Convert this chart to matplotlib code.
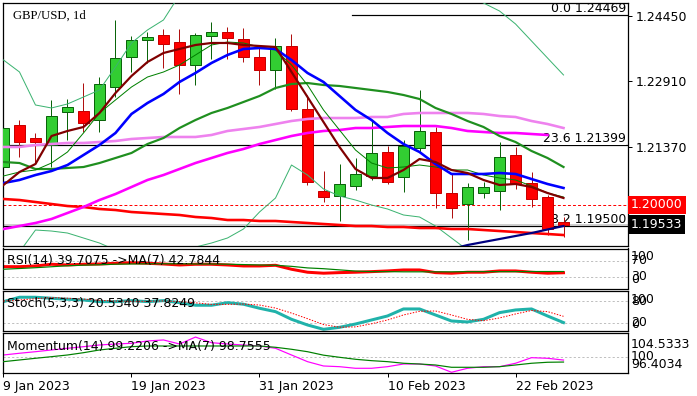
import numpy as np
import matplotlib.pyplot as plt
from matplotlib.transforms import blended_transform_factory

# ---- candles (GBP/USD daily) ----
opens = [1.20888, 1.21876, 1.21570, 1.21406, 1.22182, 1.22205, 1.21993, 1.22769, 1.23475, 1.23874,
         1.23992, 1.23827, 1.23287, 1.23969, 1.24063, 1.23898, 1.23475, 1.23169, 1.23733, 1.22252,
         1.20324, 1.20207, 1.20442, 1.20677, 1.21241, 1.20653, 1.21335, 1.21711, 1.20277, 1.20018,
         1.20277, 1.20324, 1.21170, 1.20512, 1.20183, 1.19595]
highs = [1.22111, 1.21993, 1.21688, 1.22464, 1.22487, 1.22863, 1.23004, 1.24345, 1.23969, 1.24063,
         1.24133, 1.24133, 1.24039, 1.24298, 1.24180, 1.24157, 1.23710, 1.23922, 1.24016, 1.22581,
         1.20794, 1.20959, 1.21100, 1.21970, 1.21382, 1.21523, 1.22699, 1.21829, 1.20724, 1.20512,
         1.20536, 1.21476, 1.21359, 1.20771, 1.20230, 1.19713]
lows = [1.20865, 1.21123, 1.20982, 1.20888, 1.21523, 1.21711, 1.21711, 1.22534, 1.23122, 1.23334,
        1.23216, 1.22605, 1.22816, 1.23428, 1.23428, 1.23357, 1.22816, 1.22722, 1.22205, 1.20465,
        1.20065, 1.19619, 1.20348, 1.20583, 1.20489, 1.20300, 1.21218, 1.19924, 1.19689, 1.19172,
        1.20159, 1.19877, 1.20371, 1.19948, 1.19289, 1.19242]
closes = [1.21805, 1.21476, 1.21476, 1.22087, 1.22299, 1.21923, 1.22840, 1.23451, 1.23874, 1.23945,
          1.23780, 1.23287, 1.23992, 1.24063, 1.23922, 1.23475, 1.23169, 1.23733, 1.22252, 1.20536,
          1.20183, 1.20489, 1.20724, 1.21218, 1.20536, 1.21382, 1.21735, 1.20277, 1.19924, 1.20418,
          1.20418, 1.21123, 1.20489, 1.20136, 1.19431, 1.19533]

date_idx = [0, 8, 16, 24, 32]
date_labels = ['9 Jan 2023', '19 Jan 2023', '31 Jan 2023', '10 Feb 2023', '22 Feb 2023']

# ---- moving averages / bands on price chart ----
ma_maroon = [1.20465, 1.20771, 1.20959, 1.21617, 1.21735, 1.21829, 1.22158, 1.22628, 1.23028, 1.23357,
             1.23569, 1.23663, 1.23757, 1.23804, 1.23804, 1.23757, 1.23733, 1.23710, 1.23122, 1.22534,
             1.21946, 1.21359, 1.20841, 1.20630, 1.20630, 1.20818, 1.21076, 1.21006, 1.20818, 1.20747,
             1.20583, 1.20465, 1.20489, 1.20418, 1.20277, 1.20159]
ma_blue = [1.20512, 1.20583, 1.20700, 1.20794, 1.20935, 1.21170, 1.21406, 1.21688, 1.22135, 1.22393,
           1.22605, 1.22887, 1.23099, 1.23334, 1.23522, 1.23663, 1.23686, 1.23663, 1.23404, 1.23099,
           1.22887, 1.22558, 1.22229, 1.21993, 1.21688, 1.21429, 1.21241, 1.20959, 1.20724, 1.20724,
           1.20724, 1.20747, 1.20724, 1.20606, 1.20489, 1.20395]
ma_green = [1.21006, 1.20982, 1.20841, 1.20841, 1.20865, 1.20888, 1.20982, 1.21100, 1.21218, 1.21429,
            1.21570, 1.21805, 1.21993, 1.22158, 1.22276, 1.22417, 1.22558, 1.22746, 1.22840, 1.22863,
            1.22816, 1.22793, 1.22746, 1.22699, 1.22652, 1.22581, 1.22487, 1.22276, 1.22135, 1.21970,
            1.21829, 1.21617, 1.21476, 1.21265, 1.21100, 1.20888]
ma_violet = [1.21359, 1.21359, 1.21406, 1.21429, 1.21453, 1.21453, 1.21476, 1.21500, 1.21547, 1.21570,
             1.21594, 1.21594, 1.21594, 1.21641, 1.21735, 1.21782, 1.21829, 1.21899, 1.21970, 1.22017,
             1.22040, 1.22040, 1.22040, 1.22064, 1.22064, 1.22135, 1.22158, 1.22158, 1.22158, 1.22158,
             1.22135, 1.22087, 1.22064, 1.21970, 1.21899, 1.21805]
ma_magenta = [1.19431, 1.19501, 1.19572, 1.19666, 1.19807, 1.19948, 1.20112, 1.20253, 1.20418, 1.20583,
              1.20700, 1.20841, 1.20982, 1.21100, 1.21218, 1.21312, 1.21429, 1.21523, 1.21617, 1.21688,
              1.21735, 1.21758, 1.21805, 1.21805, 1.21829, 1.21852, 1.21852, 1.21852, 1.21805, 1.21735,
              1.21711, 1.21688, 1.21688, 1.21664, 1.21641]
ma_red = [1.20136, 1.20112, 1.20065, 1.20018, 1.19971, 1.19948, 1.19901, 1.19877, 1.19830, 1.19807,
          1.19783, 1.19760, 1.19713, 1.19689, 1.19642, 1.19642, 1.19619, 1.19619, 1.19595, 1.19572,
          1.19548, 1.19525, 1.19501, 1.19501, 1.19478, 1.19478, 1.19454, 1.19454, 1.19431, 1.19431,
          1.19407, 1.19383, 1.19360, 1.19336, 1.19313, 1.19289]
ma_thin = [1.20677, 1.20771, 1.20818, 1.20982, 1.21241, 1.21688, 1.22158, 1.22464, 1.22769, 1.23004,
           1.23122, 1.23287, 1.23522, 1.23757, 1.23827, 1.23804, 1.23710, 1.23639, 1.23287, 1.22816,
           1.22229, 1.21758, 1.21288, 1.20982, 1.20865, 1.20888, 1.20935, 1.20888, 1.20818, 1.20818,
           1.20700, 1.20630, 1.20583, 1.20442, 1.20277, 1.20183]
band_up = [1.23404, 1.23122, 1.22346, 1.22276, 1.22370, 1.22534, 1.22699, 1.23240, 1.23804, 1.24110,
           1.24345, 1.24933, 1.25168, 1.25403, 1.25520, 1.25638, 1.25708, 1.25756, 1.25756, 1.25708,
           1.25638, 1.25520, 1.25473, 1.25403, 1.25332, 1.25285, 1.25238, 1.25168, 1.25050, 1.24933,
           1.24744, 1.24556, 1.24251, 1.23851, 1.23451, 1.23052]
band_low = [1.18584, 1.18890, 1.19407, 1.19383, 1.19336, 1.19219, 1.19101, 1.18937, 1.18796, 1.18702,
            1.18702, 1.18819, 1.19007, 1.19101, 1.19219, 1.19431, 1.19830, 1.20159, 1.20935, 1.20700,
            1.20371, 1.20207, 1.20112, 1.19995, 1.19901, 1.19760, 1.19713, 1.19501, 1.19219, 1.18937,
            1.18749, 1.18608, 1.18514, 1.18466, 1.18466, 1.18466]
navy_idx = [28, 29, 30, 31, 32, 33, 34, 35]
navy_vals = [1.18960, 1.19054, 1.19125, 1.19195, 1.19266, 1.19336, 1.19419, 1.19501]

fib_names = ['0.0', '23.6', '38.2']
fib_levels = [1.24469, 1.21399, 1.19500]
fib_start = [21.8, -1, -1]
price_ticks = [1.24450, 1.22910, 1.21370]
level_price = 1.20000
bid_price = 1.19533

# ---- oscillators ----
rsi = [55.2, 55.2, 57, 61.3, 59.5, 61.3, 62, 63.8, 65.3, 63.8, 62, 59.5, 61.3, 61.3, 59.5, 57, 57, 58.7,
       48.6, 41, 38.5, 40, 41, 42.5, 44.3, 46.8, 46.8, 40, 38.5, 41, 41, 44.3, 44.3, 41, 38.5, 39.7]
rsi_ma = [48.6, 50.5, 52.5, 55, 57.5, 59, 60, 61.5, 62, 62.5, 62.5, 62.5, 62, 62, 61.5, 60.5, 59.5, 58.7,
          56, 52, 50, 47, 44, 42.5, 42.5, 42, 42, 42, 42, 42.5, 42.5, 42.5, 42.5, 42.8, 42.8, 42.8]
stoch_k = [78.4, 90.5, 90.5, 87.8, 85, 83, 78.4, 78.4, 81.2, 78.4, 81.2, 75.6, 68.4, 68.4, 75.6, 71.2,
           60.1, 50.7, 29.6, 13.9, 1.9, 7.4, 16.6, 27.7, 38.8, 58.2, 58.2, 41.5, 24.9, 22.2, 29.6, 48,
           55.4, 58.2, 38.8, 20.5]
stoch_d = [80, 83, 86.5, 89.6, 87.8, 85.3, 82.1, 79.9, 79.3, 79.3, 80.3, 78.4, 75.1, 70.8, 70.8, 71.7,
           69, 60.7, 46.8, 31.4, 15.1, 7.7, 8.6, 17.2, 27.7, 41.6, 51.7, 52.6, 41.5, 29.5, 25.6, 33.3,
           44.3, 53.9, 50.8, 37.8]
mom = [100.39, 100.79, 101.15, 101.55, 101.94, 102.31, 102.7, 102.93, 103.09, 103.63, 103.86, 102.93,
       104.53, 103.23, 102.93, 102.7, 102.47, 101.94, 100.39, 98.85, 97.85, 97.69, 97.32, 97.32, 97.69,
       98.31, 98.31, 97.85, 96.40, 97.32, 97.69, 97.69, 98.48, 99.77, 99.63, 99.22]
mom_ma = [98.85, 99.24, 99.63, 100.0, 100.39, 100.92, 101.55, 101.94, 102.31, 102.47, 102.47, 102.47,
          102.47, 102.47, 102.47, 102.47, 102.47, 102.17, 101.71, 101.15, 100.35, 99.86, 99.4, 99.08,
          98.85, 98.48, 98.31, 98.08, 97.55, 97.55, 97.55, 97.69, 98.08, 98.48, 98.71, 98.76]

W, H = 697, 396
fig = plt.figure(figsize=(W / 100, H / 100), dpi=100)


def panel(top, bottom):
    ax = fig.add_axes([3 / W, 1 - bottom / H, 625 / W, (bottom - top) / H])
    ax.set_xlim(-0.03, 39.03)
    for s in ax.spines.values():
        s.set_linewidth(0.9)
    ax.tick_params(axis='x', bottom=False, labelbottom=False)
    ax.tick_params(axis='y', left=False, labelleft=False)
    return ax


def px(points):
    return points * 72 / 100


FS = 9
x = np.arange(len(opens))

# ---- main price panel ----
ax = panel(3, 246)
ax.set_ylim(1.19031, 1.24744)

for name, lvl, start in zip(fib_names, fib_levels, fib_start):
    ax.plot([start, 40], [lvl, lvl], color='black', lw=px(1.2), zorder=1)
    ax.annotate(name + ' ' + '%.5f' % lvl, xy=(0.9968, lvl),
                xycoords=blended_transform_factory(ax.transAxes, ax.transData),
                xytext=(0, px(3)), textcoords='offset points', ha='right', va='baseline',
                fontsize=FS, color='black', zorder=1,
                bbox=dict(facecolor='white', edgecolor='none', pad=0) if name == '23.6' else None)
ax.axhline(bid_price, color='#c0c0c0', lw=px(1.5), zorder=1)
ax.axhline(level_price, color='red', lw=px(1), ls=(0, (px(4), px(3))), zorder=1)

for i in x:
    o, h, l, c = opens[i], highs[i], lows[i], closes[i]
    up = c >= o
    body_c = '#32cd32' if up else '#ff0000'
    edge_c = '#0a640a' if up else '#c80000'
    wick_c = '#0a640a' if up else '#b01010'
    ax.vlines(i, l, h, color=wick_c, lw=px(1), zorder=2)
    ax.bar(i, max(abs(c - o), 0.00004), bottom=min(o, c), width=0.64,
           color=body_c, edgecolor=edge_c, linewidth=px(1), zorder=3)

ax.plot(x, band_up, color='#3cb371', lw=px(1), zorder=4)
ax.plot(x, band_low, color='#3cb371', lw=px(1), zorder=4)
ax.plot(x, ma_red, color='#ff0000', lw=px(2.6), zorder=4)
ax.plot(np.arange(len(ma_magenta)), ma_magenta, color='#ff00ff', lw=px(2.6), zorder=4)
ax.plot(x, ma_violet, color='#ee82ee', lw=px(2.6), zorder=4)
ax.plot(x, ma_green, color='#1f8f1f', lw=px(2.2), zorder=4)
ax.plot(x, ma_thin, color='#008000', lw=px(1), zorder=4)
ax.plot(x, ma_blue, color='#0000ff', lw=px(2.6), zorder=5)
ax.plot(x, ma_maroon, color='#800000', lw=px(2.2), zorder=5)
ax.plot(navy_idx, navy_vals, color='#000080', lw=px(2.2), zorder=5)

ax.yaxis.tick_right()
ax.set_yticks(price_ticks)
ax.set_yticklabels(['%.5f' % t for t in price_ticks])
ax.tick_params(axis='y', right=True, labelright=True, length=px(4), width=px(1),
               pad=px(4), labelsize=FS)
ax.text(0.0155, 0.948, 'GBP/USD, 1d', transform=ax.transAxes, family='Liberation Serif',
        fontsize=9.2, va='center', ha='left')
bt = blended_transform_factory(ax.transAxes, ax.transData)
ax.text(1.0048, level_price, '%.5f' % level_price, transform=bt, color='white', fontsize=FS,
        va='center', ha='left', bbox=dict(boxstyle='square,pad=0.22', fc='#ff0000', ec='none'))
ax.text(1.0048, bid_price, '%.5f' % bid_price, transform=bt, color='white', fontsize=FS,
        va='center', ha='left', bbox=dict(boxstyle='square,pad=0.22', fc='black', ec='none'))


def side_label(a, val, text, dy=0):
    a.annotate(text, xy=(1.0048, val),
               xycoords=blended_transform_factory(a.transAxes, a.transData),
               xytext=(0, px(dy)), textcoords='offset points', ha='left', va='center',
               fontsize=FS, annotation_clip=False)


grid_kw = dict(color='#c0c0c0', lw=px(1), ls=(0, (px(3), px(3))), zorder=0)

# ---- RSI ----
ar = panel(248.5, 288.5)
ar.set_ylim(-0.5, 101.5)
for lv in (70, 30):
    ar.axhline(lv, **grid_kw)
ar.plot(x, rsi, color='#ff0000', lw=px(3), zorder=2)
ar.plot(x, rsi_ma, color='#008000', lw=px(1.2), zorder=3)
ar.text(0.0069, 0.69, 'RSI(14) 39.7075 ->MA(7) 42.7844', transform=ar.transAxes,
        fontsize=FS, va='center', zorder=5)
side_label(ar, 100, '100', -7)
side_label(ar, 70, '70')
side_label(ar, 30, '30')
side_label(ar, 0, '0', 9)

# ---- Stochastic ----
ast = panel(290.7, 330.7)
ast.set_ylim(-1.9, 108.6)
for lv in (80, 20):
    ast.axhline(lv, **grid_kw)
ast.plot(x, stoch_k, color='#20b2aa', lw=px(3), zorder=2)
ast.plot(x, stoch_d, color='#ff0000', lw=px(1), ls=(0, (px(2), px(2))), zorder=3)
ast.text(0.0069, 0.685, 'Stoch(5,3,3) 20.5340 37.8249', transform=ast.transAxes,
         fontsize=FS, va='center', zorder=5)
side_label(ast, 100, '100', -5.5)
side_label(ast, 80, '80')
side_label(ast, 20, '20')
side_label(ast, 0, '0', 6)

# ---- Momentum ----
am = panel(333.3, 372.7)
am.set_ylim(96.3, 105.4)
am.axhline(100, **grid_kw)
am.plot(x, mom, color='#ff00ff', lw=px(1.2), zorder=2)
am.plot(x, mom_ma, color='#008000', lw=px(1.2), zorder=3)
am.text(0.0069, 0.66, 'Momentum(14) 99.2206 ->MA(7) 98.7555', transform=am.transAxes,
        fontsize=FS, va='center', zorder=5)
side_label(am, 104.5333, '104.5333', -7)
side_label(am, 100, '100')
side_label(am, 96.4034, '96.4034', 8)

am.set_xticks(date_idx)
am.set_xticklabels(date_labels, ha='left')
am.tick_params(axis='x', bottom=True, labelbottom=True, length=px(4), width=px(1),
               pad=px(3), labelsize=FS)

fig.savefig('out.png', dpi=100)
